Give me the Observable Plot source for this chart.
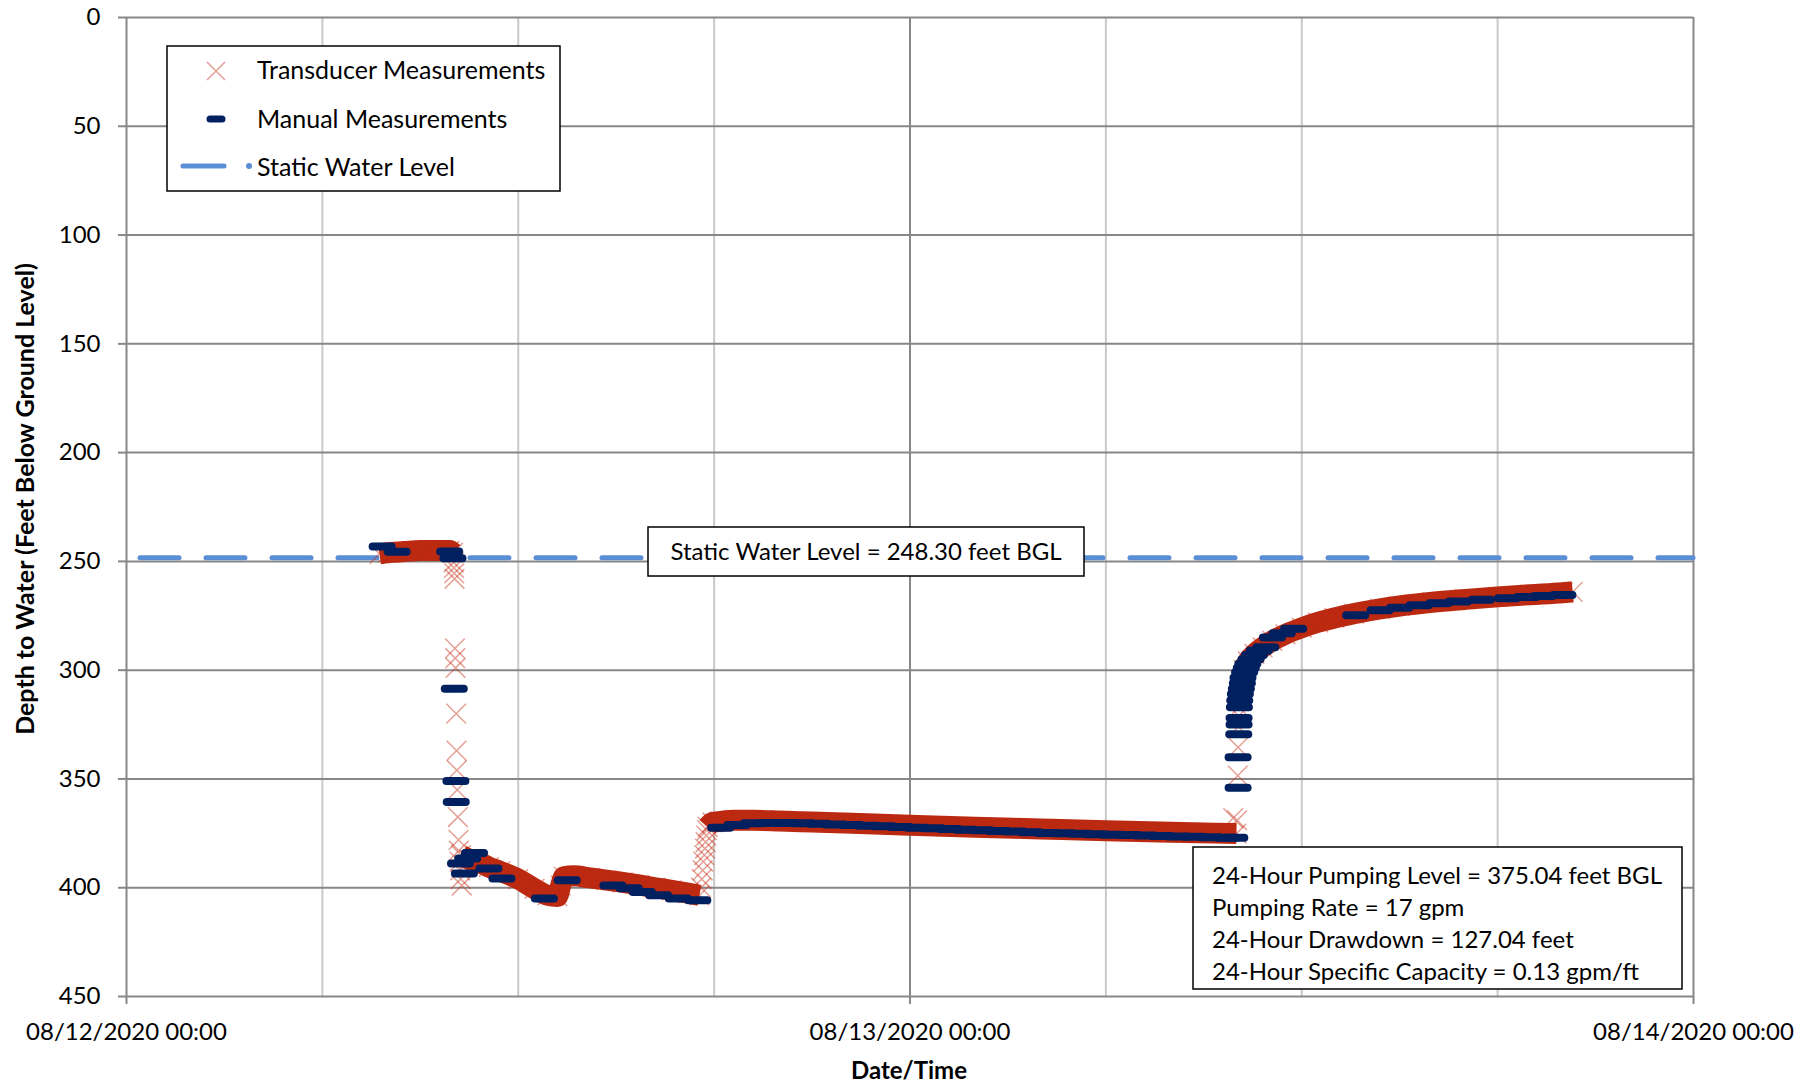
<!DOCTYPE html>
<html>
<head>
<meta charset="utf-8">
<script src="https://cdn.jsdelivr.net/npm/d3@7"></script>
<script src="https://cdn.jsdelivr.net/npm/@observablehq/plot@0.6"></script>
<style>
  html, body { margin: 0; padding: 0; background: #fff; }
  #wrap { position: relative; width: 1811px; height: 1086px; font-family: Lato, "Open Sans", sans-serif; }
  #overlay { position: absolute; left: 0; top: 0; pointer-events: none; }
</style>
</head>
<body>
<div id="wrap"></div>
<script>
// ---------- axes / ticks ----------
const xTickHours = [0, 24, 48];                       // hours since 08/12/2020 00:00
const xTickLabels = ["08/12/2020 00:00", "08/13/2020 00:00", "08/14/2020 00:00"];
const xMinorGridHours = [6, 12, 18, 30, 36, 42];
const xMajorGridHours = [24];
const yTicks = [0, 50, 100, 150, 200, 250, 300, 350, 400, 450];
const staticWaterLevel = 248.30;

// ---------- transducer measurements [hour, depth ft BGL] ----------
const transducerPrePump = [[7.75, 246.5], [8.0, 246], [8.5, 245.5], [9.0, 245], [9.5, 245], [9.9, 245], [10.0, 246]];
const transducerDrawdown = [[10.02, 250.5], [10.03, 253], [10.04, 255.5], [10.05, 258], [10.06, 290], [10.07, 294.5],
  [10.08, 299], [10.1, 320], [10.11, 337], [10.12, 346], [10.13, 355], [10.15, 367.5], [10.17, 378], [10.18, 383],
  [10.2, 388], [10.22, 392], [10.24, 396], [10.27, 399]];
const transducerPumping1 = [[10.25, 385], [10.5, 387], [10.75, 388], [11.1, 390.5], [11.45, 392.5], [12.0, 396],
  [12.5, 400.5], [12.9, 403.5], [13.2, 404], [13.3, 399], [13.4, 395], [13.7, 394.5], [14.2, 395.5], [14.7, 396.5],
  [15.2, 397.5], [15.7, 398.7], [16.2, 400], [16.7, 401.2], [17.2, 402.5], [17.55, 403.5]];
const transducerRateChange = [[17.6, 400], [17.62, 396], [17.65, 392], [17.67, 388], [17.7, 385], [17.72, 382],
  [17.74, 379], [17.76, 376], [17.78, 373.5]];
const transducerPumping2 = [[17.8, 372], [17.95, 370], [18.2, 369.5], [18.6, 369], [19.2, 369], [20, 369.3],
  [21, 369.8], [22, 370.3], [24, 371.3], [26, 372.2], [28, 373], [30, 373.8], [32, 374.5], [34, 375.1]];
const transducerRecoveryEarly = [[33.9, 368], [34.02, 369], [34.04, 348.5], [34.05, 335.5], [34.06, 326],
  [34.07, 321], [34.08, 317], [34.09, 314]];
const transducerRecovery = [[34.1, 310], [34.15, 305], [34.22, 300], [34.35, 296], [34.55, 292.5], [34.8, 289.5],
  [35.1, 286.5], [35.5, 283.5], [36.0, 280.5], [36.5, 278], [37.0, 276], [37.6, 274], [38.4, 271.8], [39.0, 270.5],
  [40.0, 268.8], [41.0, 267.5], [42.0, 266.3], [43.0, 265.3], [44.0, 264.4], [44.3, 264]];

// ---------- manual measurements [hour, depth ft BGL] ----------
const manualPrePump = [[7.83, 243.2], [8.29, 245.6], [9.9, 245.4], [10.0, 248.6]];
const manualPumping1 = [[10.04, 308.5], [10.09, 351], [10.1, 360.6], [10.23, 388.9], [10.35, 393.5], [10.45, 386.6],
  [10.66, 384], [11.1, 391.2], [11.5, 395.8], [12.8, 405], [13.5, 396.6], [14.9, 399], [15.4, 400.3], [15.8, 402],
  [16.3, 403.5], [16.9, 405], [17.5, 405.8]];
const manualPumping2 = [[18.2, 372.4], [18.7, 371.2], [19.2, 370.4], [19.7, 370.2], [20.2, 370.2], [20.7, 370.4],
  [21.2, 370.6], [21.7, 370.9], [22.2, 371.2], [22.7, 371.5], [23.2, 371.8], [23.7, 372.1], [24.2, 372.4],
  [24.7, 372.7], [25.2, 373.0], [25.7, 373.3], [26.2, 373.6], [26.7, 373.9], [27.2, 374.2], [27.7, 374.5],
  [28.2, 374.8], [28.7, 375.0], [29.2, 375.2], [29.7, 375.4], [30.2, 375.6], [30.7, 375.8], [31.2, 376.0],
  [31.7, 376.2], [32.2, 376.4], [32.7, 376.6], [33.2, 376.8], [33.7, 377.0], [33.95, 377.0]];
const manualRecovery = [[34.05, 354], [34.05, 340], [34.07, 329.5], [34.08, 325], [34.08, 322], [34.09, 317],
  [34.1, 314], [34.12, 311], [34.15, 308.5], [34.18, 306], [34.2, 303.5], [34.25, 301], [34.3, 299], [34.35, 297],
  [34.45, 295], [34.55, 293], [34.7, 291], [34.9, 289.5], [35.1, 285], [35.4, 283], [35.75, 281], [37.65, 274.8],
  [38.4, 272.5], [39.0, 271.3], [39.6, 270.2], [40.2, 269.2], [40.8, 268.4], [41.5, 267.6], [42.3, 266.9],
  [42.9, 266.4], [43.4, 265.9], [44.0, 265.5]];

// ---------- text ----------
const legendLabels = ["Transducer Measurements", "Manual Measurements", "Static Water Level"];
const staticNote = "Static Water Level = 248.30 feet BGL";
const pumpingNotes = ["24-Hour Pumping Level = 375.04 feet BGL", "Pumping Rate = 17 gpm",
  "24-Hour Drawdown = 127.04 feet", "24-Hour Specific Capacity = 0.13 gpm/ft"];
const xTitle = "Date/Time";
const yTitle = "Depth to Water (Feet Below Ground Level)";

// ---------- styles ----------
const RED_BAND = "#bb2911";
const RED_X = "#c62d14";
const NAVY = "#002060";
const BLUE = "#5a8fd6";
const GRID_DARK = "#878787";
const GRID_LIGHT = "#c9c9c9";

const bandSegments = [transducerPrePump, transducerPumping1, transducerPumping2, transducerRecovery];
const allTransducer = [...transducerPrePump, ...transducerDrawdown, ...transducerPumping1, ...transducerRateChange,
  ...transducerPumping2, ...transducerRecoveryEarly, ...transducerRecovery];
const allManual = [...manualPrePump, ...manualPumping1, ...manualPumping2, ...manualRecovery];

const dashSymbol = { draw(ctx) { ctx.moveTo(-9.5, 0); ctx.lineTo(9.5, 0); } };

const chart = Plot.plot({
  width: 1811, height: 1086,
  marginLeft: 126, marginRight: 118, marginTop: 17, marginBottom: 90,
  style: { fontFamily: "Lato, 'Open Sans', sans-serif", fontSize: "24px", color: "#000", background: "#fff" },
  x: { domain: [0, 48] },
  y: { domain: [0, 450], reverse: true },
  marks: [
    Plot.ruleX(xMinorGridHours, { stroke: GRID_LIGHT, strokeWidth: 2 }),
    Plot.ruleX(xMajorGridHours, { stroke: GRID_DARK, strokeWidth: 2 }),
    Plot.ruleY(yTicks, { stroke: GRID_DARK, strokeWidth: 2 }),
    Plot.ruleX([xTickHours[0], xTickHours[xTickHours.length - 1]], { stroke: GRID_DARK, strokeWidth: 2 }),
    Plot.ruleY([staticWaterLevel], { stroke: BLUE, strokeWidth: 5, strokeDasharray: "39,27", strokeDashoffset: -14, strokeLinecap: "round" }),
    ...bandSegments.map(seg => Plot.line(seg, { x: d => d[0], y: d => d[1], stroke: RED_BAND, strokeWidth: 21,
      curve: "monotone-x", strokeLinecap: "butt", strokeLinejoin: "round" })),
    Plot.dot(allTransducer, { x: d => d[0], y: d => d[1], symbol: "times", r: 9, stroke: RED_X, strokeOpacity: 0.45, strokeWidth: 1.5 }),
    Plot.dot(allManual, { x: d => d[0], y: d => d[1], symbol: dashSymbol, fill: "none", stroke: NAVY, strokeWidth: 8, strokeLinecap: "round" }),
    Plot.axisX({ ticks: xTickHours, tickFormat: (d, i) => xTickLabels[i], tickSize: 8, tickPadding: 18, stroke: GRID_DARK, strokeWidth: 2, label: null }),
    Plot.axisY({ ticks: yTicks, tickSize: 8, tickPadding: 18, stroke: GRID_DARK, strokeWidth: 2, label: null })
  ]
});
const wrap = document.getElementById("wrap");
wrap.appendChild(chart);

// ---------- overlay: legend, annotation boxes, axis titles ----------
const ov = d3.select(wrap).append("svg").attr("id", "overlay").attr("width", 1811).attr("height", 1086)
  .style("font-family", "Lato, 'Open Sans', sans-serif").style("font-size", "24px");

// legend
ov.append("rect").attr("x", 167).attr("y", 46).attr("width", 393).attr("height", 145)
  .attr("fill", "#fff").attr("stroke", "#000").attr("stroke-width", 1.5);
const lg = ov.append("g").style("font-size", "25px");
lg.append("path").attr("d", "M207,62L225,80M207,80L225,62").attr("stroke", RED_X).attr("stroke-opacity", 0.45).attr("stroke-width", 1.5);
lg.append("line").attr("x1", 210).attr("x2", 222).attr("y1", 119).attr("y2", 119).attr("stroke", NAVY).attr("stroke-width", 7).attr("stroke-linecap", "round");
lg.append("line").attr("x1", 183).attr("x2", 224).attr("y1", 166).attr("y2", 166).attr("stroke", BLUE).attr("stroke-width", 5).attr("stroke-linecap", "round");
lg.append("circle").attr("cx", 249).attr("cy", 166).attr("r", 3).attr("fill", BLUE);
[70, 119, 167].forEach((y, i) => lg.append("text").attr("x", 257).attr("y", y).attr("dy", "0.35em").text(legendLabels[i]));

// static note
ov.append("rect").attr("x", 648).attr("y", 527).attr("width", 436).attr("height", 49)
  .attr("fill", "#fff").attr("stroke", "#000").attr("stroke-width", 1.5);
ov.append("text").attr("x", 866).attr("y", 552).attr("dy", "0.35em").attr("text-anchor", "middle").text(staticNote);

// pumping note
ov.append("rect").attr("x", 1193).attr("y", 847).attr("width", 489).attr("height", 142)
  .attr("fill", "#fff").attr("stroke", "#000").attr("stroke-width", 1.5);
[876, 908, 940, 972].forEach((y, i) => ov.append("text").attr("x", 1212).attr("y", y).attr("dy", "0.35em").text(pumpingNotes[i]));

// axis titles
ov.append("text").attr("x", 909).attr("y", 1071).attr("dy", "0.35em").attr("text-anchor", "middle")
  .attr("font-weight", "bold").text(xTitle);
ov.append("text").attr("transform", "translate(25,499) rotate(-90)").attr("dy", "0.35em").attr("text-anchor", "middle")
  .attr("font-weight", "bold").style("font-size", "25px").text(yTitle);
</script>
</body>
</html>
